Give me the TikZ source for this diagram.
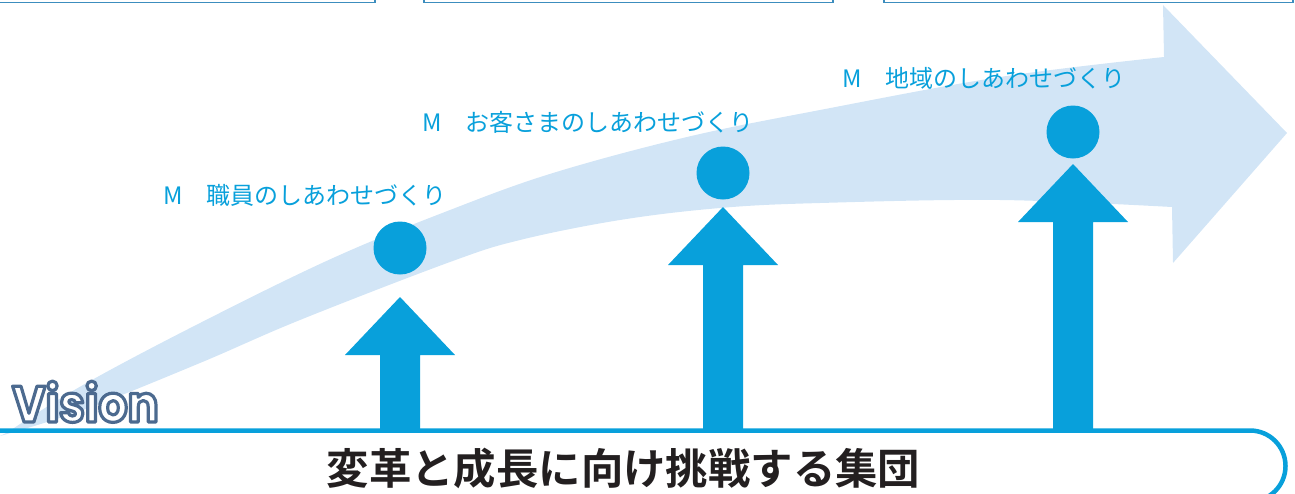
\documentclass[tikz,border=0pt]{standalone}
\usepackage{fontspec}
\newfontfamily\jpfont{Noto Sans CJK JP}[BoldFont={Noto Sans CJK JP Bold}]
\newfontfamily\visfont{Poppins}[FakeStretch=0.9]
\definecolor{arrowblue}{RGB}{8,160,219}
\definecolor{bandblue}{RGB}{210,229,246}
\definecolor{visline}{RGB}{76,106,143}
\definecolor{boxblue}{RGB}{60,141,190}
\definecolor{maintext}{RGB}{35,31,32}
\newcommand{\outlinetext}[1]{{\color{white}\special{pdf:literal direct 2 Tr 3.2 w 1 j 1 J 0.298 0.416 0.561 RG}#1\special{pdf:literal direct 0 Tr}}}
\tikzset{
  dot/.style={circle, fill=arrowblue, minimum size=53pt, inner sep=0},
  mlabel/.style={anchor=west, inner sep=0, text=arrowblue, font=\jpfont\fontsize{24}{28}\selectfont},
  topbox/.style={draw=boxblue, line width=1.5pt},
  upshape/.style={fill=arrowblue},
  baseline/.style={draw=arrowblue, line width=4.5pt},
}
\begin{document}
\begin{tikzpicture}[x=1pt,y=-1pt]
\useasboundingbox (0,0) rectangle (1295,493);
% big light band arrow
\fill[bandblue] plot[smooth, tension=0.6] coordinates {(8,432) (83,385) (200,323) (333,258) (450,210) (553,173) (687,137) (820,110) (1000,77) (1164,57)}
  -- (1163,5) -- (1287,133) -- (1173,263) -- (1172,207)
  -- plot[smooth, tension=0.6] coordinates {(1172,207) (1000,200) (820,203) (720,208) (620,220) (520,240) (450,262) (300,320) (200,363) (83,410) (0,436)}
  -- cycle;
% top boxes (cut off)
\draw[topbox] (-5,-10) rectangle (375,2.5);
\draw[topbox] (424,-10) rectangle (833,2.5);
\draw[topbox] (884,-10) rectangle (1293,2.5);
% labels
\node[mlabel] (l1) at (163,195) {M　職員のしあわせづくり};
\node[mlabel] (l2) at (422,122) {M　お客さまのしあわせづくり};
\node[mlabel] (l3) at (842,78) {M　地域のしあわせづくり};
% circles
\node[dot] (c1) at (400,248) {};
\node[dot] (c2) at (723,173) {};
\node[dot] (c3) at (1073,132) {};
% up arrows
\foreach \x/\t in {400/297, 723/207, 1073/164}{
  \pgfmathsetmacro{\b}{\t+58}
  \fill[upshape] (\x,\t) -- (\x+55,\b) -- (\x+20,\b) -- (\x+20,432) -- (\x-20,432) -- (\x-20,\b) -- (\x-55,\b) -- cycle;
}
% bottom line with rounded end
\draw[baseline] (-3,430.5) -- (1250,430.5) .. controls (1269.6,430.5) and (1285.5,446.4) .. (1285.5,466) .. controls (1285.5,485.6) and (1269.6,501.5) .. (1250,501.5);
% Vision
\node[anchor=base west, inner sep=0] (vis) at (12,422) {\visfont\bfseries\fontsize{51}{51}\selectfont\outlinetext{Vision}};
% main text
\node[inner sep=0, text=maintext, font=\jpfont\bfseries\fontsize{42.4}{48}\selectfont] (main) at (623.5,468) {変革と成長に向け挑戦する集団};
\end{tikzpicture}
\end{document}
